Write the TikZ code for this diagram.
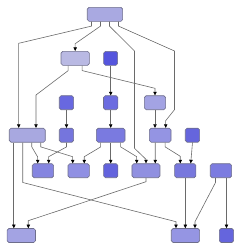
\documentclass[tikz,border=0pt]{standalone}
\usetikzlibrary{arrows.meta}
\definecolor{bord}{HTML}{6E6E8C}
\definecolor{edgec}{HTML}{6A6A6A}
\definecolor{cA}{HTML}{A9A9E1}
\definecolor{cB}{HTML}{B9B9E3}
\definecolor{cC}{HTML}{5555DD}
\definecolor{cD}{HTML}{6868E0}
\definecolor{cE}{HTML}{6C6CE0}
\definecolor{cF}{HTML}{A3A3E3}
\definecolor{cG}{HTML}{A8A8E0}
\definecolor{cH}{HTML}{7575DD}
\definecolor{cI}{HTML}{7A7AE0}
\definecolor{cJ}{HTML}{9494E3}
\definecolor{cK}{HTML}{6565DD}
\definecolor{cL}{HTML}{8585E0}
\definecolor{cM}{HTML}{9090E3}
\definecolor{cN}{HTML}{6363DD}
\definecolor{cO}{HTML}{9090E0}
\definecolor{cP}{HTML}{7878DD}
\definecolor{cQ}{HTML}{7C7CE0}
\definecolor{cR}{HTML}{A3A3E3}
\definecolor{cS}{HTML}{9595E3}
\definecolor{cT}{HTML}{6565DD}
\tikzset{
  box/.style={draw=bord, line width=0.6pt, rounded corners=1.8pt, inner sep=0pt, minimum height=14pt},
  edge/.style={draw=edgec, line width=0.6pt, -{Triangle[length=3.6pt,width=3.4pt,color=black]}},
}
\begin{document}
\begin{tikzpicture}[x=1pt,y=-1pt]
\useasboundingbox (0,0) rectangle (241,250);
% level 1
\node[box, fill=cA, minimum width=35.4pt] (A) at (105,14.3) {};
% level 2
\node[box, fill=cB, minimum width=28.3pt] (B) at (75.2,58.3) {};
\node[box, fill=cC, minimum width=14pt] (C) at (110.7,58.3) {};
% level 3
\node[box, fill=cD, minimum width=14.4pt] (D) at (66.5,102.7) {};
\node[box, fill=cE, minimum width=14.4pt] (E) at (110.7,102.7) {};
\node[box, fill=cF, minimum width=21.3pt] (F) at (155,102.7) {};
% level 4
\node[box, fill=cG, minimum width=36pt] (G) at (27.3,135.2) {};
\node[box, fill=cH, minimum width=14.4pt] (H) at (66.5,135.2) {};
\node[box, fill=cI, minimum width=28.7pt] (I) at (110.7,135.2) {};
\node[box, fill=cJ, minimum width=21.7pt] (J) at (160.2,135.2) {};
\node[box, fill=cK, minimum width=14.4pt] (K) at (192.5,135.2) {};
% level 5
\node[box, fill=cL, minimum width=21.4pt] (L) at (43,170.7) {};
\node[box, fill=cM, minimum width=21.3pt] (M) at (78.7,170.7) {};
\node[box, fill=cN, minimum width=14.3pt] (N) at (110.8,170.7) {};
\node[box, fill=cO, minimum width=28pt] (O) at (146,170.7) {};
\node[box, fill=cP, minimum width=21.3pt] (P) at (185.3,170.7) {};
\node[box, fill=cQ, minimum width=21.4pt] (Q) at (221,170.7) {};
% level 6
\node[box, fill=cR, minimum width=28.4pt] (R) at (21.3,235.5) {};
\node[box, fill=cS, minimum width=28.4pt] (S) at (185.5,235.5) {};
\node[box, fill=cT, minimum width=14.3pt] (T) at (226.5,235.5) {};
% edges from A
\draw[edge] ([xshift=-13.5pt]A.south) -- ++(0,4.5) -- (18.7,43.3) -- ([xshift=-8.6pt]G.north);
\draw[edge] ([xshift=-4.5pt]A.south) -- ++(0,4.5) -- (75.2,43.7) -- (B.north);
\draw[edge] ([xshift=4.5pt]A.south) -- ++(0,4.5) -- (134.5,51) -- (134.5,148.3) -- (146,159.3) -- (O.north);
\draw[edge] ([xshift=13.5pt]A.south) -- ++(0,4.5) -- (174.5,51) -- (174.5,109.7) -- (165.7,120.7) -- ([xshift=5.5pt]J.north);
% level 2 -> 3/4
\draw[edge] ([xshift=-7pt]B.south) -- ++(0,5) -- (36,95) -- ([xshift=8.7pt]G.north);
\draw[edge] ([xshift=7pt]B.south) -- ++(0,5) -- (155,88.3) -- (F.north);
\draw[edge] (C.south) -- (E.north);
% level 3 -> 4
\draw[edge] (D.south) -- (H.north);
\draw[edge] (E.south) -- (I.north);
\draw[edge] (F.south) -- (F.south |- J.north);
% level 4 -> 5/6
\draw[edge] ([xshift=-13.5pt]G.south) -- ([xshift=-7.5pt]R.north);
\draw[edge] ([xshift=-4.5pt]G.south) -- ++(0,40) -- (176,221.7) -- ([xshift=-9.5pt]S.north);
\draw[edge] ([xshift=4.5pt]G.south) -- ++(0,4.4) -- (37.7,157) -- ([xshift=-5.3pt]L.north);
\draw[edge] ([xshift=13.5pt]G.south) -- ++(0,4.4) -- (72.7,156.7) -- ([xshift=-6pt]M.north);
\draw[edge] (H.south) -- ++(0,4.4) -- (48.7,156.7) -- ([xshift=5.7pt]L.north);
\draw[edge] ([xshift=-10pt]I.south) -- ++(0,4.4) -- (84.3,156.7) -- ([xshift=5.6pt]M.north);
\draw[edge] (I.south) -- (I.south |- N.north);
\draw[edge] ([xshift=10pt]I.south) -- ++(0,4.4) -- (136.7,156.7) -- ([xshift=-9.3pt]O.north);
\draw[edge] ([xshift=-5pt]J.south) -- ([xshift=9.3pt]O.north);
\draw[edge] ([xshift=5pt]J.south) -- ++(0,4.4) -- (180.3,156.3) -- ([xshift=-5pt]P.north);
\draw[edge] (K.south) -- ([xshift=5.4pt]P.north);
% level 5 -> 6
\draw[edge] (O.south) -- ++(0,3.7) -- (28.3,220.7) -- ([xshift=7pt]R.north);
\draw[edge] (P.south) -- (P.south |- S.north);
\draw[edge] ([xshift=-5.5pt]Q.south) -- ++(0,4.5) -- (195,221.7) -- ([xshift=9.5pt]S.north);
\draw[edge] ([xshift=5.5pt]Q.south) -- (T.north);
\end{tikzpicture}
\end{document}
